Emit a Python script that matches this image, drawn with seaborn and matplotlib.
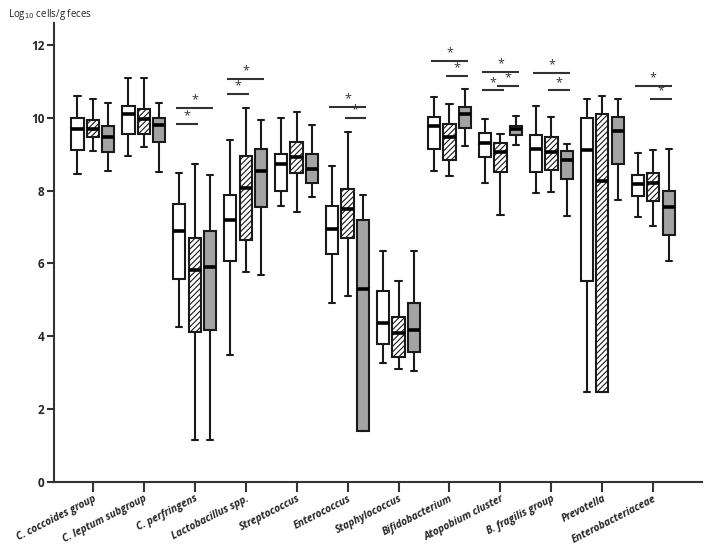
import numpy as np
import pandas as pd
import matplotlib
matplotlib.use("Agg")
import matplotlib.pyplot as plt
import matplotlib.transforms as mtransforms
import seaborn as sns
from matplotlib.colors import to_hex

# ---------------- data ----------------
categories = ["C. coccoides group", "C. leptum subgroup", "C. perfringens",
              "Lactobacillus spp.", "Streptococcus", "Enterococcus",
              "Staphylococcus", "Bifidobacterium", "Atopobium cluster",
              "B. fragilis group", "Prevotella", "Enterobacteriaceae"]
groups = ["Group 1", "Group 2", "Group 3"]

# five-number summaries: [min, q1, median, q3, max]
group1 = [
    [8.45, 9.11, 9.70, 9.99, 10.60],
    [8.96, 9.54, 10.11, 10.32, 11.08],
    [4.26, 5.58, 6.90, 7.62, 8.47],
    [3.49, 6.07, 7.20, 7.89, 9.40],
    [7.58, 8.00, 8.74, 9.00, 9.99],
    [4.92, 6.25, 6.95, 7.58, 8.67],
    [3.28, 3.80, 4.37, 5.25, 6.33],
    [8.54, 9.15, 9.78, 10.02, 10.57],
    [8.21, 8.91, 9.30, 9.58, 9.96],
    [7.93, 8.51, 9.14, 9.52, 10.33],
    [2.48, 5.53, 9.11, 9.98, 10.51],
    [7.28, 7.86, 8.19, 8.43, 9.03],
]
group2 = [
    [9.09, 9.48, 9.70, 9.95, 10.51],
    [9.20, 9.54, 9.97, 10.23, 11.08],
    [1.15, 4.11, 5.82, 6.71, 8.73],
    [5.77, 6.64, 8.07, 8.95, 10.27],
    [7.41, 8.48, 8.93, 9.33, 10.16],
    [5.10, 6.71, 7.50, 8.05, 9.62],
    [3.10, 3.43, 4.10, 4.53, 5.52],
    [8.39, 8.84, 9.48, 9.83, 10.38],
    [7.34, 8.51, 9.07, 9.30, 9.55],
    [7.96, 8.56, 9.05, 9.47, 10.02],
    [2.48, 2.48, 8.27, 10.11, 10.60],
    [7.03, 7.71, 8.20, 8.48, 9.10],
]
group3 = [
    [8.53, 9.06, 9.48, 9.76, 10.41],
    [8.51, 9.33, 9.79, 9.99, 10.41],
    [1.15, 4.17, 5.89, 6.89, 8.42],
    [5.68, 7.55, 8.53, 9.13, 9.93],
    [7.83, 8.22, 8.58, 9.00, 9.80],
    [1.40, 1.40, 5.29, 7.19, 7.89],
    [3.04, 3.56, 4.16, 4.91, 6.33],
    [9.22, 9.71, 10.09, 10.29, 10.79],
    [9.25, 9.52, 9.70, 9.77, 10.05],
    [7.31, 8.32, 8.83, 9.09, 9.28],
    [7.74, 8.73, 9.63, 10.02, 10.51],
    [6.08, 6.79, 7.54, 7.99, 9.15],
]

# significance brackets: (category index, from group, to group, level)
sig_cat = [2, 2, 3, 3, 5, 5, 7, 7, 8, 8, 8, 9, 9, 11, 11]
sig_from = [0, 0, 0, 0, 0, 1, 0, 1, 0, 0, 1, 0, 1, 0, 1]
sig_to = [2, 1, 2, 1, 2, 2, 2, 2, 2, 1, 2, 2, 2, 2, 2]
sig_level = [10.27, 9.84, 11.06, 10.65, 10.29, 9.99, 11.56, 11.15,
             11.25, 10.75, 10.88, 11.22, 10.75, 10.88, 10.51]

y_ticks = [0, 2, 4, 6, 8, 10, 12]
y_label = "Log$_{10}$ cells/g feces"

# ---------------- build long table ----------------
rows = []
for gname, summ in zip(groups, [group1, group2, group3]):
    for cat, vals in zip(categories, summ):
        for v in vals:
            rows.append({"cat": cat, "grp": gname, "val": v})
df = pd.DataFrame(rows)

# ---------------- plot ----------------
sns.set_style("ticks")
plt.rcParams["font.family"] = ["Open Sans", "DejaVu Sans"]
plt.rcParams["hatch.linewidth"] = 0.8

fig = plt.figure(figsize=(7.06, 5.47), dpi=100)
ax = fig.add_axes([0.0765, 0.1188, 0.9175, 0.8392])

hatch_key = "#fdfdfd"
palette = {"Group 1": "#ffffff", "Group 2": hatch_key, "Group 3": "#a3a3a3"}
width = 0.9
sns.boxplot(data=df, x="cat", y="val", hue="grp", order=categories,
            hue_order=groups, palette=palette, saturation=1, width=width,
            gap=0.2, whis=(0, 100), linewidth=1.5, linecolor="#1a1a1a",
            fliersize=0, legend=False, ax=ax,
            medianprops={"linewidth": 2.6, "color": "black"})

for p in ax.patches:
    if to_hex(p.get_facecolor()) == hatch_key:
        p.set_hatch("//////")
        p.set_facecolor("white")

# significance brackets
n = len(groups)
offsets = (np.arange(n) - (n - 1) / 2) * width / n
for c, a, b, lv in zip(sig_cat, sig_from, sig_to, sig_level):
    x0 = c + offsets[a] - 0.06
    x1 = c + offsets[b] + 0.06
    ax.plot([x0, x1], [lv, lv], color="#333333", lw=1.5, solid_capstyle="butt")
    ax.text((x0 + x1) / 2, lv + 0.04, "*", ha="center", va="bottom",
            fontsize=9, color="#333333")

ax.set_xlim(-0.76, 11.95)
ax.set_ylim(0, 12.6)
ax.set_yticks(y_ticks)
ax.set_yticklabels([str(t) for t in y_ticks], fontweight="bold", fontsize=8.5)
ax.set_xticks(range(len(categories)))
ax.set_xticklabels(categories, rotation=27, ha="right", va="top",
                   rotation_mode="anchor", fontweight="bold", style="italic",
                   fontsize=7.3)
shift = mtransforms.ScaledTranslation(6 / 100, 0, fig.dpi_scale_trans)
for lab in ax.get_xticklabels():
    lab.set_transform(lab.get_transform() + shift)
ax.set_xlabel("")
ax.set_ylabel("")
for s in ["top", "right"]:
    ax.spines[s].set_visible(False)
for s in ["left", "bottom"]:
    ax.spines[s].set_linewidth(1.5)
    ax.spines[s].set_color("#333333")
ax.tick_params(axis="x", length=7, width=1.5, color="#333333", pad=1)
ax.tick_params(axis="y", length=5, width=1.5, color="#333333", pad=2)

fig.text(0.011, 1 - 15 / 547, y_label, fontsize=7, ha="left", va="center",
         color="#222222")

fig.savefig("out.png", dpi=100)
